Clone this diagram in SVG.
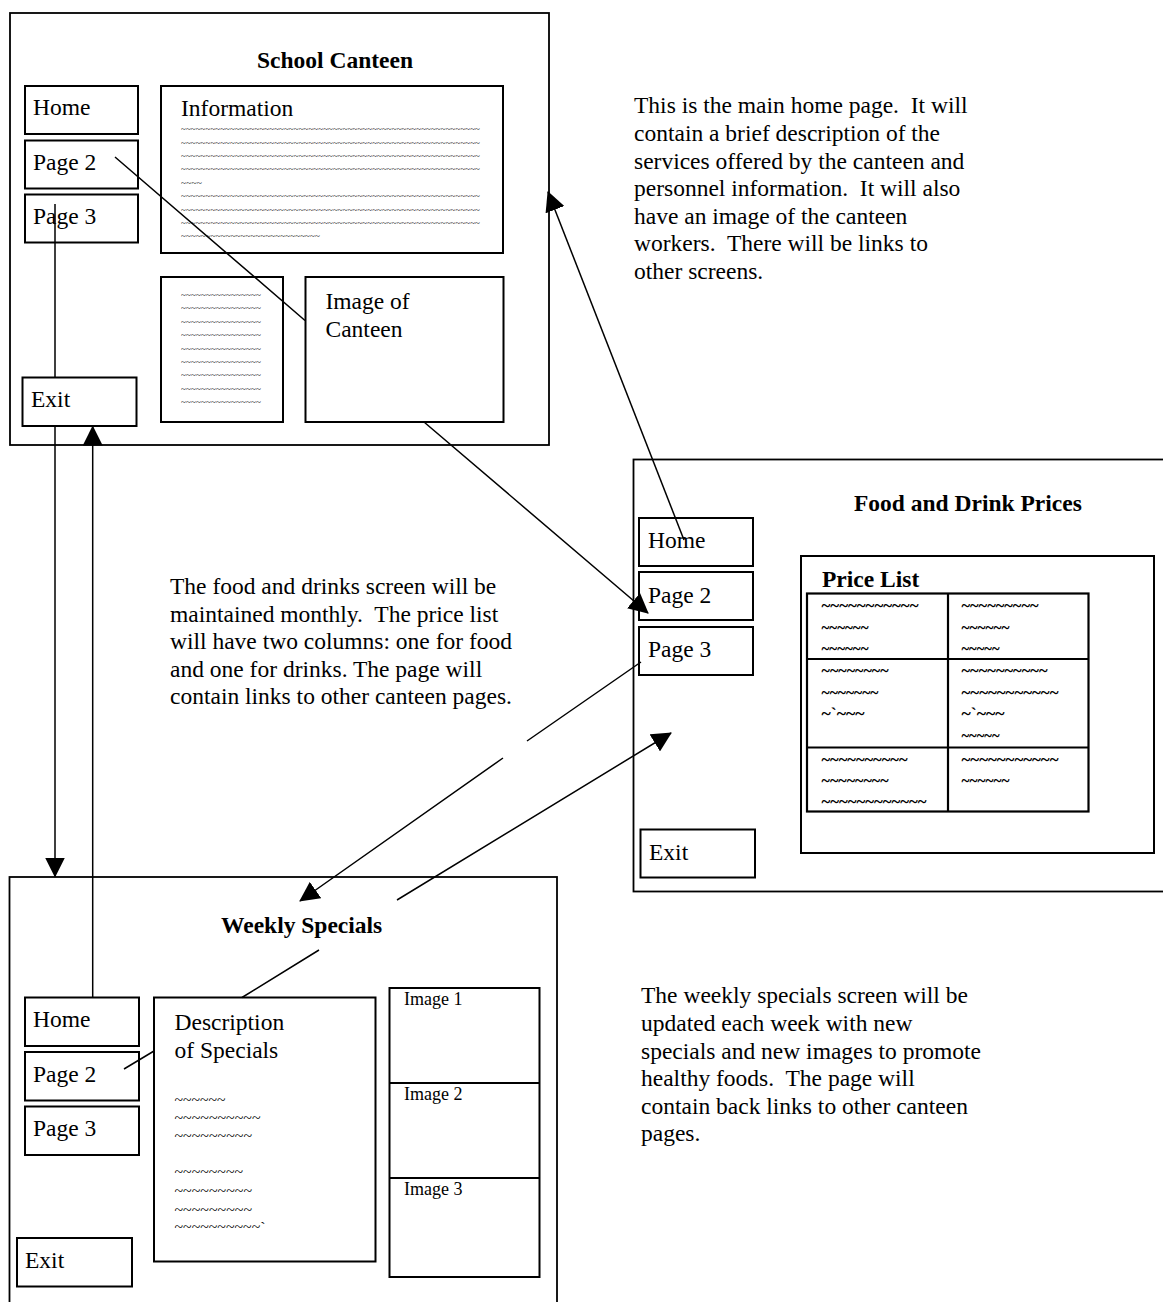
<svg xmlns="http://www.w3.org/2000/svg" width="1163" height="1302" viewBox="0 0 1163 1302">
<style>
text{font-family:"Liberation Serif","Times New Roman",serif;fill:#000}
.t{font-size:23.5px}
.b{font-size:23.5px;font-weight:bold}
.s{font-size:18px}
.d{font-size:9px}
.p{font-size:16px;font-weight:bold}
.w{font-size:14px}
.panel{fill:none;stroke:#000;stroke-width:1.8}
.box{fill:#fff;stroke:#000;stroke-width:2}
.ob{fill:none;stroke:#000;stroke-width:2}
.grid{fill:none;stroke:#000;stroke-width:2.2}
.conn{fill:none;stroke:#000;stroke-width:1.5}
</style>
<defs>
<marker id="ah" markerUnits="userSpaceOnUse" markerWidth="20" markerHeight="20" viewBox="0 0 20 20" refX="19" refY="10" orient="auto">
<path d="M0,0 L20,10 L0,20 Z" fill="#000"/>
</marker>
</defs>
<rect width="1163" height="1302" fill="#fff"/>

<g id="home-screen">
<rect class="panel" x="10" y="13" width="539" height="432"/>
<text class="b" x="257" y="68">School Canteen</text>
<rect class="ob" x="161" y="86" width="342" height="167"/>
<text class="t" x="181" y="116">Information</text>
<g class="d">
<text x="181" y="132" textLength="299" lengthAdjust="spacingAndGlyphs">~~~~~~~~~~~~~~~~~~~~~~~~~~~~~~~~~~~~~~~~~~~~~~~~~~~~~~~~~~~~~</text>
<text x="181" y="145.5" textLength="299" lengthAdjust="spacingAndGlyphs">~~~~~~~~~~~~~~~~~~~~~~~~~~~~~~~~~~~~~~~~~~~~~~~~~~~~~~~~~~~~~</text>
<text x="181" y="159" textLength="299" lengthAdjust="spacingAndGlyphs">~~~~~~~~~~~~~~~~~~~~~~~~~~~~~~~~~~~~~~~~~~~~~~~~~~~~~~~~~~~~~</text>
<text x="181" y="172" textLength="299" lengthAdjust="spacingAndGlyphs">~~~~~~~~~~~~~~~~~~~~~~~~~~~~~~~~~~~~~~~~~~~~~~~~~~~~~~~~~~~~~</text>
<text x="181" y="185.5" textLength="21" lengthAdjust="spacingAndGlyphs">~~~~</text>
<text x="181" y="199" textLength="299" lengthAdjust="spacingAndGlyphs">~~~~~~~~~~~~~~~~~~~~~~~~~~~~~~~~~~~~~~~~~~~~~~~~~~~~~~~~~~~~~</text>
<text x="181" y="212.5" textLength="299" lengthAdjust="spacingAndGlyphs">~~~~~~~~~~~~~~~~~~~~~~~~~~~~~~~~~~~~~~~~~~~~~~~~~~~~~~~~~~~~~</text>
<text x="181" y="226" textLength="299" lengthAdjust="spacingAndGlyphs">~~~~~~~~~~~~~~~~~~~~~~~~~~~~~~~~~~~~~~~~~~~~~~~~~~~~~~~~~~~~~</text>
<text x="181" y="239" textLength="139" lengthAdjust="spacingAndGlyphs">~~~~~~~~~~~~~~~~~~~~~~~~~~~~</text>
</g>
<rect class="ob" x="161" y="277" width="122" height="145"/>
<g class="d">
<text x="181" y="297.5" textLength="80" lengthAdjust="spacingAndGlyphs">~~~~~~~~~~~~~~~~</text>
<text x="181" y="311" textLength="80" lengthAdjust="spacingAndGlyphs">~~~~~~~~~~~~~~~~</text>
<text x="181" y="324.5" textLength="80" lengthAdjust="spacingAndGlyphs">~~~~~~~~~~~~~~~~</text>
<text x="181" y="338" textLength="80" lengthAdjust="spacingAndGlyphs">~~~~~~~~~~~~~~~~</text>
<text x="181" y="351.5" textLength="80" lengthAdjust="spacingAndGlyphs">~~~~~~~~~~~~~~~~</text>
<text x="181" y="365" textLength="80" lengthAdjust="spacingAndGlyphs">~~~~~~~~~~~~~~~~</text>
<text x="181" y="378" textLength="80" lengthAdjust="spacingAndGlyphs">~~~~~~~~~~~~~~~~</text>
<text x="181" y="391.5" textLength="80" lengthAdjust="spacingAndGlyphs">~~~~~~~~~~~~~~~~</text>
<text x="181" y="405" textLength="80" lengthAdjust="spacingAndGlyphs">~~~~~~~~~~~~~~~~</text>
</g>
</g>

<g id="home-nav">
<rect class="box" x="25" y="86" width="113" height="48"/>
<text class="t" x="33" y="115">Home</text>
<rect class="box" x="25" y="140.5" width="113" height="48"/>
<text class="t" x="33" y="170">Page 2</text>
<rect class="box" x="25" y="194.5" width="113" height="48"/>
<text class="t" x="33" y="224">Page 3</text>
</g>

<g id="home-description">
<text class="t" xml:space="preserve"><tspan x="634" y="113">This is the main home page.  It will</tspan><tspan x="634" y="141">contain a brief description of the</tspan><tspan x="634" y="168.5">services offered by the canteen and</tspan><tspan x="634" y="196">personnel information.  It will also</tspan><tspan x="634" y="223.5">have an image of the canteen</tspan><tspan x="634" y="251">workers.  There will be links to</tspan><tspan x="634" y="278.5">other screens.</tspan></text>
</g>

<g id="prices-screen">
<rect class="panel" x="633.5" y="459.5" width="545" height="432"/>
<text class="b" x="854" y="511">Food and Drink Prices</text>
<rect class="box" x="639" y="518" width="114" height="48"/>
<text class="t" x="648" y="548">Home</text>
<rect class="box" x="639" y="572" width="114" height="48"/>
<text class="t" x="648" y="603">Page 2</text>
<rect class="box" x="639" y="627" width="114" height="48"/>
<text class="t" x="648" y="657">Page 3</text>
<rect class="box" x="640.5" y="829.5" width="114.5" height="48"/>
<text class="t" x="649" y="860">Exit</text>
<rect class="ob" x="801" y="556" width="353" height="297"/>
<text class="b" x="822" y="587">Price List</text>
<rect class="grid" x="807" y="593.5" width="281.5" height="218"/>
<line class="grid" x1="948" y1="593.5" x2="948" y2="811.5"/>
<line class="grid" x1="807" y1="659" x2="1088.5" y2="659"/>
<line class="grid" x1="807" y1="747.5" x2="1088.5" y2="747.5"/>
<g class="p">
<text x="821.5" y="611" textLength="97" lengthAdjust="spacingAndGlyphs">~~~~~~~~~~~</text>
<text x="821.5" y="633" textLength="47" lengthAdjust="spacingAndGlyphs">~~~~~~</text>
<text x="821.5" y="654" textLength="47" lengthAdjust="spacingAndGlyphs">~~~~~~</text>
<text x="961.5" y="611" textLength="77" lengthAdjust="spacingAndGlyphs">~~~~~~~~~</text>
<text x="961.5" y="633" textLength="48" lengthAdjust="spacingAndGlyphs">~~~~~~</text>
<text x="961.5" y="654" textLength="38" lengthAdjust="spacingAndGlyphs">~~~~~</text>
<text x="821.5" y="676" textLength="67" lengthAdjust="spacingAndGlyphs">~~~~~~~~</text>
<text x="821.5" y="698" textLength="57" lengthAdjust="spacingAndGlyphs">~~~~~~~</text>
<text x="821.5" y="719" textLength="43" lengthAdjust="spacingAndGlyphs">~`~~~</text>
<text x="961.5" y="676" textLength="86" lengthAdjust="spacingAndGlyphs">~~~~~~~~~~</text>
<text x="961.5" y="698" textLength="97" lengthAdjust="spacingAndGlyphs">~~~~~~~~~~~</text>
<text x="961.5" y="719" textLength="43" lengthAdjust="spacingAndGlyphs">~`~~~</text>
<text x="961.5" y="741" textLength="38" lengthAdjust="spacingAndGlyphs">~~~~~</text>
<text x="821.5" y="764.5" textLength="86" lengthAdjust="spacingAndGlyphs">~~~~~~~~~~</text>
<text x="821.5" y="785.5" textLength="67" lengthAdjust="spacingAndGlyphs">~~~~~~~~</text>
<text x="821.5" y="807" textLength="105" lengthAdjust="spacingAndGlyphs">~~~~~~~~~~~~</text>
<text x="961.5" y="764.5" textLength="97" lengthAdjust="spacingAndGlyphs">~~~~~~~~~~~</text>
<text x="961.5" y="785.5" textLength="48" lengthAdjust="spacingAndGlyphs">~~~~~~</text>
</g>
</g>

<g id="prices-description">
<text class="t" xml:space="preserve"><tspan x="170" y="594">The food and drinks screen will be</tspan><tspan x="170" y="621.5">maintained monthly.  The price list</tspan><tspan x="170" y="649">will have two columns: one for food</tspan><tspan x="170" y="676.5">and one for drinks. The page will</tspan><tspan x="170" y="704">contain links to other canteen pages.</tspan></text>
</g>

<g id="specials-screen">
<rect class="panel" x="9.5" y="877" width="547.5" height="440"/>
<text class="b" x="221" y="933">Weekly Specials</text>
<rect class="box" x="25" y="997.5" width="114" height="48.5"/>
<text class="t" x="33" y="1027">Home</text>
<rect class="box" x="25" y="1052" width="114" height="48.5"/>
<text class="t" x="33" y="1082">Page 2</text>
<rect class="box" x="25" y="1106.5" width="114" height="48.5"/>
<text class="t" x="33" y="1136">Page 3</text>
<rect class="box" x="17" y="1238" width="115" height="48.5"/>
<text class="t" x="25" y="1268">Exit</text>
<rect class="ob" x="389.5" y="988" width="150" height="289"/>
<line class="ob" x1="389.5" y1="1083" x2="539.5" y2="1083"/>
<line class="ob" x1="389.5" y1="1178" x2="539.5" y2="1178"/>
<text class="s" x="404" y="1005">Image 1</text>
<text class="s" x="404" y="1099.5">Image 2</text>
<text class="s" x="404" y="1195">Image 3</text>
</g>

<g id="specials-description-box">
<rect class="box" x="154" y="997.5" width="221.5" height="264"/>
<text class="t" x="174.5" y="1030">Description</text>
<text class="t" x="174.5" y="1058">of Specials</text>
<g class="w">
<text x="174.5" y="1105" textLength="51" lengthAdjust="spacingAndGlyphs">~~~~~~</text>
<text x="174.5" y="1122.5" textLength="86" lengthAdjust="spacingAndGlyphs">~~~~~~~~~~</text>
<text x="174.5" y="1140.5" textLength="77.5" lengthAdjust="spacingAndGlyphs">~~~~~~~~~</text>
<text x="174.5" y="1177" textLength="68.5" lengthAdjust="spacingAndGlyphs">~~~~~~~~</text>
<text x="174.5" y="1196" textLength="77.5" lengthAdjust="spacingAndGlyphs">~~~~~~~~~</text>
<text x="174.5" y="1214.5" textLength="77.5" lengthAdjust="spacingAndGlyphs">~~~~~~~~~</text>
<text x="174.5" y="1232" textLength="91" lengthAdjust="spacingAndGlyphs">~~~~~~~~~~`</text>
</g>
</g>

<g id="specials-description">
<text class="t" xml:space="preserve"><tspan x="641" y="1003">The weekly specials screen will be</tspan><tspan x="641" y="1031">updated each week with new</tspan><tspan x="641" y="1058.5">specials and new images to promote</tspan><tspan x="641" y="1086">healthy foods.  The page will</tspan><tspan x="641" y="1113.5">contain back links to other canteen</tspan><tspan x="641" y="1141">pages.</tspan></text>
</g>

<g id="connectors">
<path class="conn" d="M115,157 L305,320.5 M424,422 L648,613" marker-end="url(#ah)"/>
<path class="conn" d="M684,540 L548,192" marker-end="url(#ah)"/>
<path class="conn" d="M55,204 V377 M55,426 V876.5" marker-end="url(#ah)"/>
<path class="conn" d="M92.7,997.5 V426.5" marker-end="url(#ah)"/>
<path class="conn" d="M641,662 L527,741 M503,758 L300,901" marker-end="url(#ah)"/>
<path class="conn" d="M124,1069 L154,1051 M242,997.5 L319,950 M397,900 L671,733" marker-end="url(#ah)"/>
</g>

<g id="home-overlays">
<rect class="box" x="305.5" y="277" width="198" height="145"/>
<text class="t" x="325.5" y="309">Image of</text>
<text class="t" x="325.5" y="336.5">Canteen</text>
<rect class="box" x="22.5" y="377.5" width="114" height="48.5"/>
<text class="t" x="31" y="407">Exit</text>
</g>
</svg>
